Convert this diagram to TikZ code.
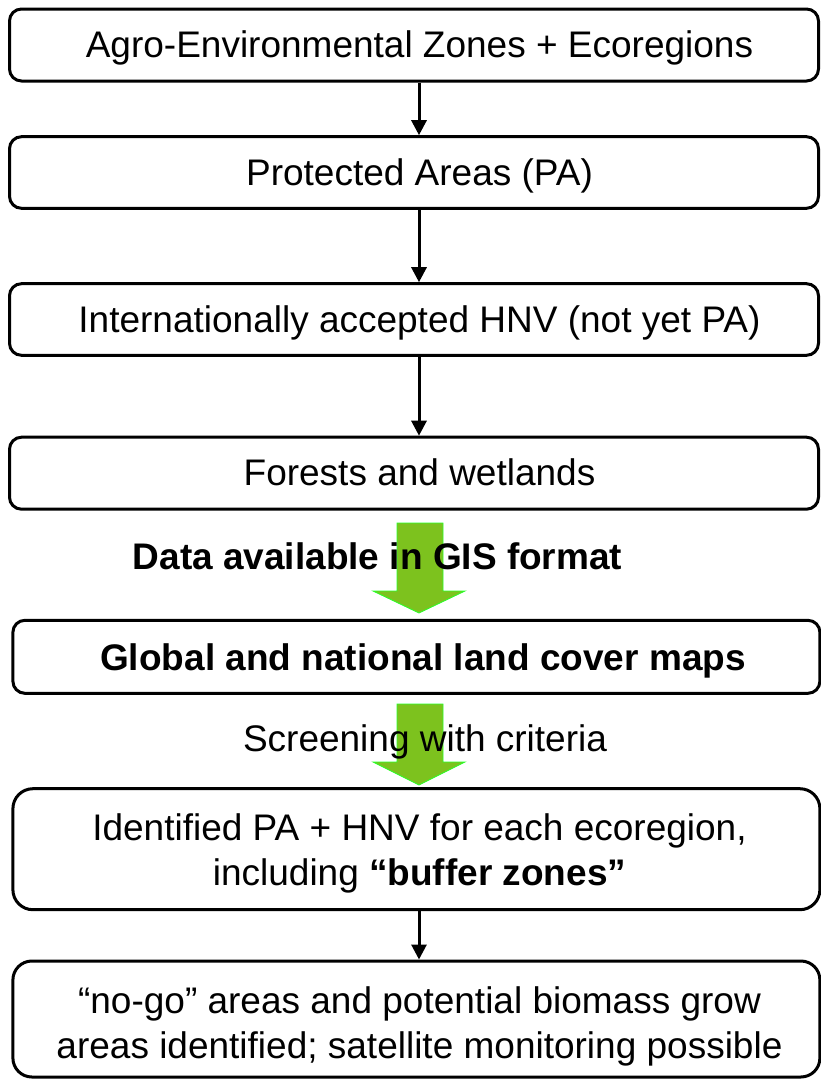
\documentclass[tikz,border=0pt]{standalone}
\usepackage{fontspec}
\setmainfont{Liberation Sans}
\usetikzlibrary{arrows.meta}
\definecolor{gfill}{RGB}{125,194,30}
\definecolor{gedge}{RGB}{40,255,40}
\begin{document}
\begin{tikzpicture}[x=1pt,y=-1pt,
  box/.style={draw=black, line width=3pt, fill=white, inner sep=0pt},
  txt/.style={anchor=base, inner sep=0pt, align=center, font=\fontsize{37}{44.5}\selectfont},
  arr/.style={line width=3pt, -{Triangle[width=15pt,length=15pt]}},
  garrow/.style={fill=gfill, draw=gedge, line width=0.8pt}]
\useasboundingbox (0,0) rectangle (821,1080);
% boxes
\node[box, rounded corners=12pt, minimum width=809pt, minimum height=72pt] (b1) at (414,45) {};
\node[box, rounded corners=12pt, minimum width=809pt, minimum height=71.6pt] (b2) at (414,172.5) {};
\node[box, rounded corners=12pt, minimum width=809pt, minimum height=71.6pt] (b3) at (414,319.5) {};
\node[box, rounded corners=12pt, minimum width=809pt, minimum height=72pt] (b4) at (414,473.2) {};
\node[box, rounded corners=12pt, minimum width=807pt, minimum height=73pt] (b5) at (416.4,656.8) {};
\node[box, rounded corners=20pt, minimum width=807pt, minimum height=121pt] (b6) at (416.4,849.2) {};
\node[box, rounded corners=19pt, minimum width=807pt, minimum height=116pt] (b7) at (416.4,1019) {};
% green block arrows
\draw[garrow] (397,523) -- (443,523) -- (443,591) -- (465,591) -- (419,613) -- (373,591) -- (397,591) -- cycle;
\draw[garrow] (397,704) -- (443,704) -- (443,762) -- (465,762) -- (419,785) -- (373,762) -- (397,762) -- cycle;
% texts
\node[txt] (t1) at (419.5,57.7) {Agro-Environmental Zones + Ecoregions};
\node[txt] (t2) at (419.5,185.2) {Protected Areas (PA)};
\node[txt] (t3) at (419.5,332.2) {Internationally accepted HNV (not yet PA)};
\node[txt] (t4) at (419.5,485.9) {Forests and wetlands};
\node[txt, font=\fontsize{37}{44.5}\selectfont\bfseries] (l1) at (377.5,569.3) {Data available in GIS format};
\node[txt, font=\fontsize{37}{44.5}\selectfont\bfseries] (t5) at (423,670.7) {Global and national land cover maps};
\node[txt] (l2) at (425,751.7) {Screening with criteria};
\node[txt] (t6) at (419.5,885) {Identified PA + HNV for each ecoregion,\\including \textbf{“buffer zones”}};
\node[txt] (t7) at (419.5,1058) {“no-go” areas and potential biomass grow\\areas identified; satellite monitoring possible};
% connectors
\draw[arr] ([xshift=5pt]b1.south) -- ([xshift=5pt]b2.north);
\draw[arr] ([xshift=5pt]b2.south) -- ([xshift=5pt]b3.north);
\draw[arr] ([xshift=5pt]b3.south) -- ([xshift=5pt]b4.north);
\draw[arr] ([xshift=2.6pt]b6.south) -- ([xshift=2.6pt]b7.north);
\end{tikzpicture}
\end{document}
